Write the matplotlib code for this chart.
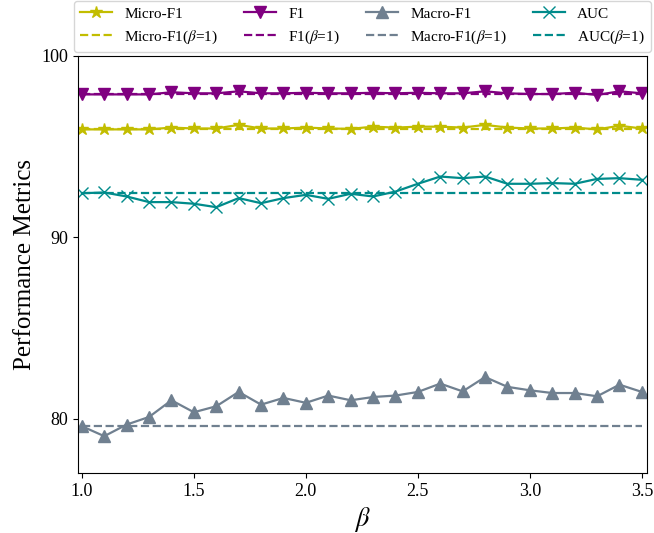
import numpy as np
import matplotlib
matplotlib.use('Agg')
import matplotlib.pyplot as plt

plt.rcParams['font.family'] = ['Liberation Serif', 'DejaVu Serif']
plt.rcParams['mathtext.fontset'] = 'stix'

# beta values 1.0 .. 3.5
beta = [1.0, 1.1, 1.2, 1.3, 1.4, 1.5, 1.6, 1.7, 1.8, 1.9, 2.0, 2.1, 2.2,
        2.3, 2.4, 2.5, 2.6, 2.7, 2.8, 2.9, 3.0, 3.1, 3.2, 3.3, 3.4, 3.5]

micro_f1 = [95.95, 95.95, 95.95, 95.95, 96.05, 96.0, 96.0, 96.2, 96.0, 96.0,
            96.05, 96.0, 95.98, 96.1, 96.05, 96.1, 96.1, 96.05, 96.2, 96.05,
            96.0, 96.0, 96.05, 95.95, 96.15, 96.0]
f1 = [97.88, 97.88, 97.88, 97.88, 98.0, 97.94, 97.94, 98.05, 97.94, 97.94,
      97.97, 97.94, 97.94, 97.97, 97.94, 97.97, 97.94, 97.94, 98.05, 97.94,
      97.9, 97.9, 97.97, 97.85, 98.05, 97.94]
macro_f1 = [79.58, 79.03, 79.67, 80.09, 81.01, 80.35, 80.68, 81.47, 80.77, 81.14,
            80.87, 81.27, 81.01, 81.19, 81.27, 81.47, 81.93, 81.5, 82.29, 81.75,
            81.56, 81.41, 81.41, 81.23, 81.87, 81.47]
auc = [92.43, 92.47, 92.25, 91.94, 91.94, 91.85, 91.66, 92.16, 91.88, 92.16,
       92.34, 92.12, 92.40, 92.25, 92.52, 92.95, 93.35, 93.26, 93.35, 92.95,
       92.95, 92.99, 92.95, 93.22, 93.26, 93.17]

names = ['Micro-F1', 'F1', 'Macro-F1', 'AUC']
series = [micro_f1, f1, macro_f1, auc]
colors = ['#c2bd00', '#800080', '#708090', '#008b8b']
markers = ['*', 'v', '^', 'x']

fig = plt.figure(figsize=(6.54, 5.33), dpi=100)
ax = fig.add_axes([0.119, 0.1126, 0.87, 0.7824])

for name, vals, c, m in zip(names, series, colors, markers):
    ms = 9 if m == '*' else 8
    ax.plot(beta, vals, color=c, marker=m, markersize=ms, linewidth=1.6,
            label=name)
    ax.plot(beta, [vals[0]] * len(beta), color=c, linestyle='--',
            linewidth=1.6, label=name + r'($\beta$=1)')

ax.set_xlim(0.982, 3.522)
ax.set_ylim(77, 100)
ax.set_xticks([1.0, 1.5, 2.0, 2.5, 3.0, 3.5])
ax.set_yticks([80, 90, 100])
ax.tick_params(labelsize=13)
ax.set_xlabel(r'$\beta$', fontsize=19)
ax.set_ylabel('Performance Metrics', fontsize=18)

ax.legend(loc='lower center', bbox_to_anchor=(0.5, 1.01), ncol=4,
          fontsize=11, columnspacing=1.7, handlelength=2.1,
          borderaxespad=0.0, fancybox=True)

fig.savefig('out.png', dpi=100)
